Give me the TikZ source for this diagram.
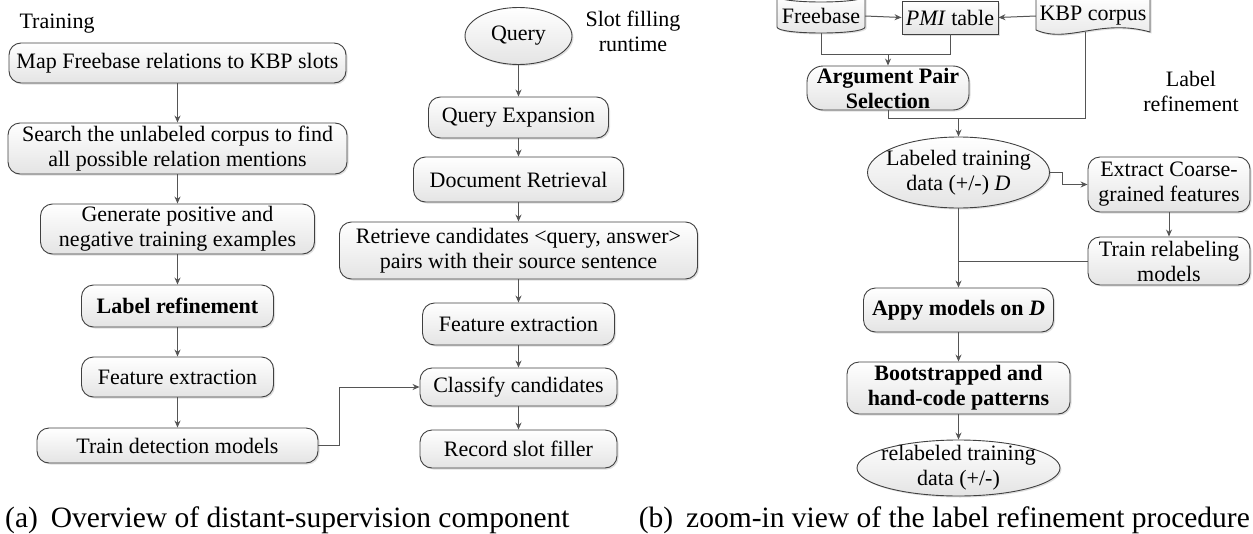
\documentclass[tikz,border=0pt]{standalone}
\usepackage{fontspec}
\setmainfont{Liberation Serif}
\usetikzlibrary{shapes.geometric,arrows.meta,shadows}
\definecolor{edgec}{HTML}{404040}
\definecolor{linec}{HTML}{555555}
\definecolor{fillb}{HTML}{E4E4E4}
\newcommand{\boxfont}{\fontsize{22}{25}\selectfont}
\newcommand{\capfont}{\fontsize{29.5}{32}\selectfont}
\tikzset{
  shp/.style={draw=edgec, line width=0.9pt, top color=white, bottom color=fillb,
    drop shadow={shadow xshift=1.5pt, shadow yshift=-1.5pt, opacity=0.25}},
  base/.style={shp, align=center, inner sep=0pt, font=\boxfont},
  rbox/.style={base, rounded corners=12pt},
  sqbox/.style={base},
  ell/.style={base, ellipse},
  sz/.style 2 args={minimum width=#1pt, minimum height=#2pt},
  link/.style={draw=linec, line width=1pt},
  arr/.style={link, -{Stealth[length=7pt,width=6pt]}},
  lbl/.style={align=center, font=\boxfont, inner sep=0pt},
}
\begin{document}
\begin{tikzpicture}[x=1pt, y=-1pt]
\useasboundingbox (0,0) rectangle (1253,533);
% ---------- (a) Training ----------
\node[lbl] (trainlbl) at (57,24) {Training};
\node[rbox, sz={337}{40}] (map) at (177.5,63) {Map Freebase relations to KBP slots};
\node[rbox, sz={339}{51}] (search) at (177.5,148.5) {Search the unlabeled corpus to find\\all possible relation mentions};
\node[rbox, sz={274}{50}] (gen) at (177.5,229) {Generate positive and\\negative training examples};
\node[rbox, sz={192}{42}] (lref) at (177.5,306) {\textbf{Label refinement}};
\node[rbox, sz={192}{40}] (fe1) at (177.5,377) {Feature extraction};
\node[rbox, sz={281}{35}] (tdm) at (177.5,445.5) {Train detection models};
\draw[arr] (map) -- (search);
\draw[arr] (search) -- (gen);
\draw[arr] (gen) -- (lref);
\draw[arr] (lref) -- (fe1);
\draw[arr] (fe1) -- (tdm);
% ---------- (a) Runtime ----------
\node[ell, sz={107}{57}] (query) at (518.5,36) {Query};
\node[lbl] (slotlbl) at (633,31) {Slot filling\\runtime};
\node[rbox, sz={180}{41}] (qe) at (518.5,117.5) {Query Expansion};
\node[rbox, sz={210}{45}] (dr) at (518.5,179.5) {Document Retrieval};
\node[rbox, sz={358}{57}] (rc) at (518.5,250.5) {Retrieve candidates <query, answer>\\pairs with their source sentence};
\node[rbox, sz={192}{42}] (fe2) at (518.5,324) {Feature extraction};
\node[rbox, sz={197}{38}] (cc) at (518.5,387) {Classify candidates};
\node[rbox, sz={197}{38}] (rsf) at (518.5,449) {Record slot filler};
\draw[arr] (query) -- (qe);
\draw[arr] (qe) -- (dr);
\draw[arr] (dr) -- (rc);
\draw[arr] (rc) -- (fe2);
\draw[arr] (fe2) -- (cc);
\draw[arr] (cc) -- (rsf);
\draw[arr] (tdm.east) -- ++(21,0) |- (cc.west);
% ---------- (b) Label refinement ----------
% Freebase cylinder
\path[shp] (777,-4) -- (777,27) .. controls (777,35) and (865,35) .. (865,27) -- (865,-4) -- cycle;
\draw[draw=edgec, line width=0.9pt] (777,-4) .. controls (777,4) and (865,4) .. (865,-4);
\node[lbl, sz={88}{34}] (fb) at (821,16) {Freebase};
% PMI table
\node[sqbox, sz={96}{33}] (pmi) at (950,17.5) {\textit{PMI} table};
% KBP corpus document
\path[shp] (1036,-4) -- (1036,30) .. controls (1068,44) and (1100,18) .. (1150,32) -- (1150,-4) -- cycle;
\node[lbl, sz={114}{30}] (kbp) at (1093,16) {KBP corpus};
\coordinate (kbpb) at (1085,32);
\draw[arr] (fb.east) -- (pmi.west);
\draw[arr] (kbp.west) -- (pmi.east);
\node[rbox, sz={162}{44}, rounded corners=16pt, inner ysep=-3pt] (aps) at (888,88) {\textbf{Argument Pair}\\\textbf{Selection}};
\coordinate (j0) at (888,54);
\draw[link] (fb.south) -- (fb.south |- j0) -- (pmi.south |- j0) -- (pmi.south);
\draw[arr] (j0) -- (aps.north);
\node[lbl] (lrlbl) at (1191,91) {Label\\refinement};
\coordinate (j1) at (958.5,118);
\draw[link] (aps.south) |- (kbpb |- j1) -- (kbpb);
\node[ell, sz={182}{71}, inner xsep=-22pt, inner ysep=-6pt] (ltd) at (958.5,172.5) {Labeled training\\data (+/-) \textit{D}};
\draw[arr] (j1) -- (ltd.north);
\node[rbox, sz={162}{55}] (ext) at (1169,184.5) {Extract Coarse-\\grained features};
\node[rbox, sz={162}{48}] (trm) at (1169,261) {Train relabeling\\models};
\draw[arr] (ltd.east) -- ++(13,0) |- (ext.west);
\draw[arr] (ext) -- (trm);
\node[rbox, sz={190}{44}] (app) at (958.5,310) {\textbf{Appy models on \textit{D}}};
\coordinate (j2) at (958.5,261);
\draw[link] (trm.west) -- (j2);
\draw[arr] (ltd.south) -- (app.north);
\node[rbox, sz={223}{52}] (boot) at (958.5,388) {\textbf{Bootstrapped and}\\\textbf{hand-code patterns}};
\node[ell, sz={203}{56}, inner xsep=-25pt, inner ysep=-12pt] (rel) at (958.5,468) {relabeled training\\data (+/-)};
\draw[arr] (app) -- (boot);
\draw[arr] (boot) -- (rel);
% ---------- captions ----------
\node[anchor=base west, inner sep=0pt, font=\capfont] (capa) at (5,527) {(a)\hspace{13pt}Overview of distant-supervision component};
\node[anchor=base east, inner sep=0pt, font=\capfont] (capb) at (1250,527) {(b)\hspace{13pt}zoom-in view of the label refinement procedure};
\end{tikzpicture}
\end{document}
